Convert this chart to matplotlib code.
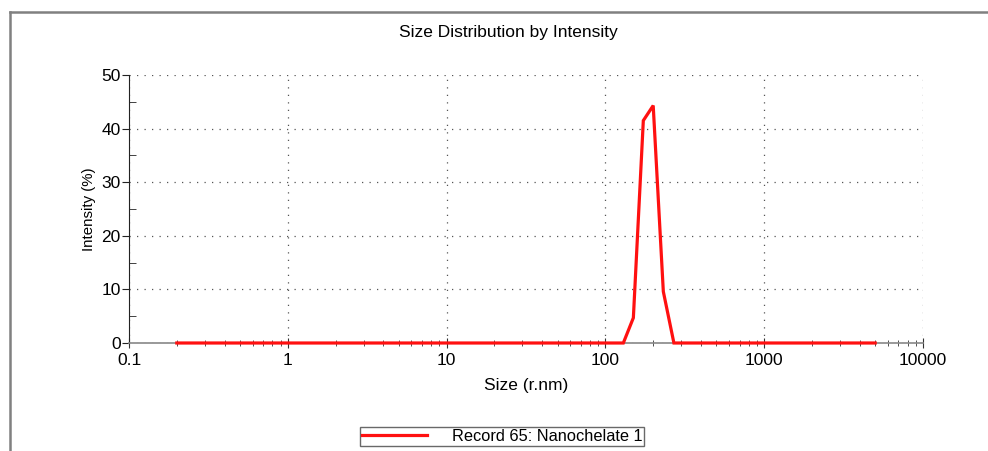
import numpy as np
import matplotlib.pyplot as plt
from matplotlib.lines import Line2D
from matplotlib.ticker import LogLocator, FixedLocator, FixedFormatter, MultipleLocator

plt.rcParams['font.family'] = ['Liberation Sans', 'DejaVu Sans']

# données (rayon en nm, intensité en %)
taille = [0.2, 129.7, 150.0, 173.3, 200.0, 231.6, 270.0, 5000.0]
intensite = [0.0, 0.0, 4.7, 41.5, 44.3, 9.6, 0.0, 0.0]

x_ticks = [0.1, 1, 10, 100, 1000, 10000]
x_labels = ["0.1", "1", "10", "100", "1000", "10000"]
y_ticks = [0, 10, 20, 30, 40, 50]

titre = "Size Distribution by Intensity"
nom_serie = "Record 65: Nanochelate 1"

fig = plt.figure(figsize=(9.88, 4.51), dpi=100)
ax = fig.add_axes([129/988, 1 - 343/451, (923 - 129)/988, (343 - 75)/451])

ax.plot(taille, intensite, color='#ff1010', lw=2.3, label=nom_serie,
        solid_joinstyle='miter', zorder=3, clip_on=False)

ax.set_xscale('log')
ax.set_xlim(0.1, 10000)
ax.set_ylim(0, 50)
ax.xaxis.set_major_locator(FixedLocator(x_ticks))
ax.xaxis.set_major_formatter(FixedFormatter(x_labels))
ax.xaxis.set_minor_locator(LogLocator(base=10, subs=np.arange(2, 10)))
ax.xaxis.set_minor_formatter(plt.NullFormatter())
ax.yaxis.set_major_locator(FixedLocator(y_ticks))
ax.yaxis.set_minor_locator(MultipleLocator(5))

ax.grid(True, which='major', linestyle=(0, (1, 5)), color='#555555', lw=0.9)
for s in ['top', 'right']:
    ax.spines[s].set_visible(False)
ax.spines['left'].set_color('#222222')
ax.spines['bottom'].set_color('#888888')
ax.spines['bottom'].set_linewidth(1.2)

ax.tick_params(axis='x', which='major', direction='inout', length=7, color='#333333',
               labelsize=12.5, pad=4)
ax.tick_params(axis='x', which='minor', direction='inout', length=4, color='#333333')
ax.tick_params(axis='y', which='major', direction='out', length=5, color='#222222',
               labelsize=12.5, pad=1)
ax.tick_params(axis='y', which='minor', direction='in', length=5, color='#222222')

ax.set_xlabel("Size (r.nm)", fontsize=12.5, labelpad=7)
ax.set_ylabel("Intensity (%)", fontsize=10.8, labelpad=4)

fig.text(508/988, 1 - 32/451, titre, ha='center', va='center', fontsize=12.5)

# cadre gris autour de la zone
fig.add_artist(Line2D([10/988, 10/988], [0, 1 - 12/451], transform=fig.transFigure,
                      color='#808080', lw=1.8))
fig.add_artist(Line2D([10/988, 1], [1 - 12/451, 1 - 12/451], transform=fig.transFigure,
                      color='#808080', lw=1.8))

leg = fig.legend(loc='center', bbox_to_anchor=(502/988, 1 - 436.5/451), fancybox=False,
                 edgecolor='#444444', fontsize=11.8, handlelength=4.0, handletextpad=1.5,
                 borderpad=0.1, borderaxespad=0)
leg.get_frame().set_linewidth(1.0)

fig.savefig("out.png", dpi=100)
